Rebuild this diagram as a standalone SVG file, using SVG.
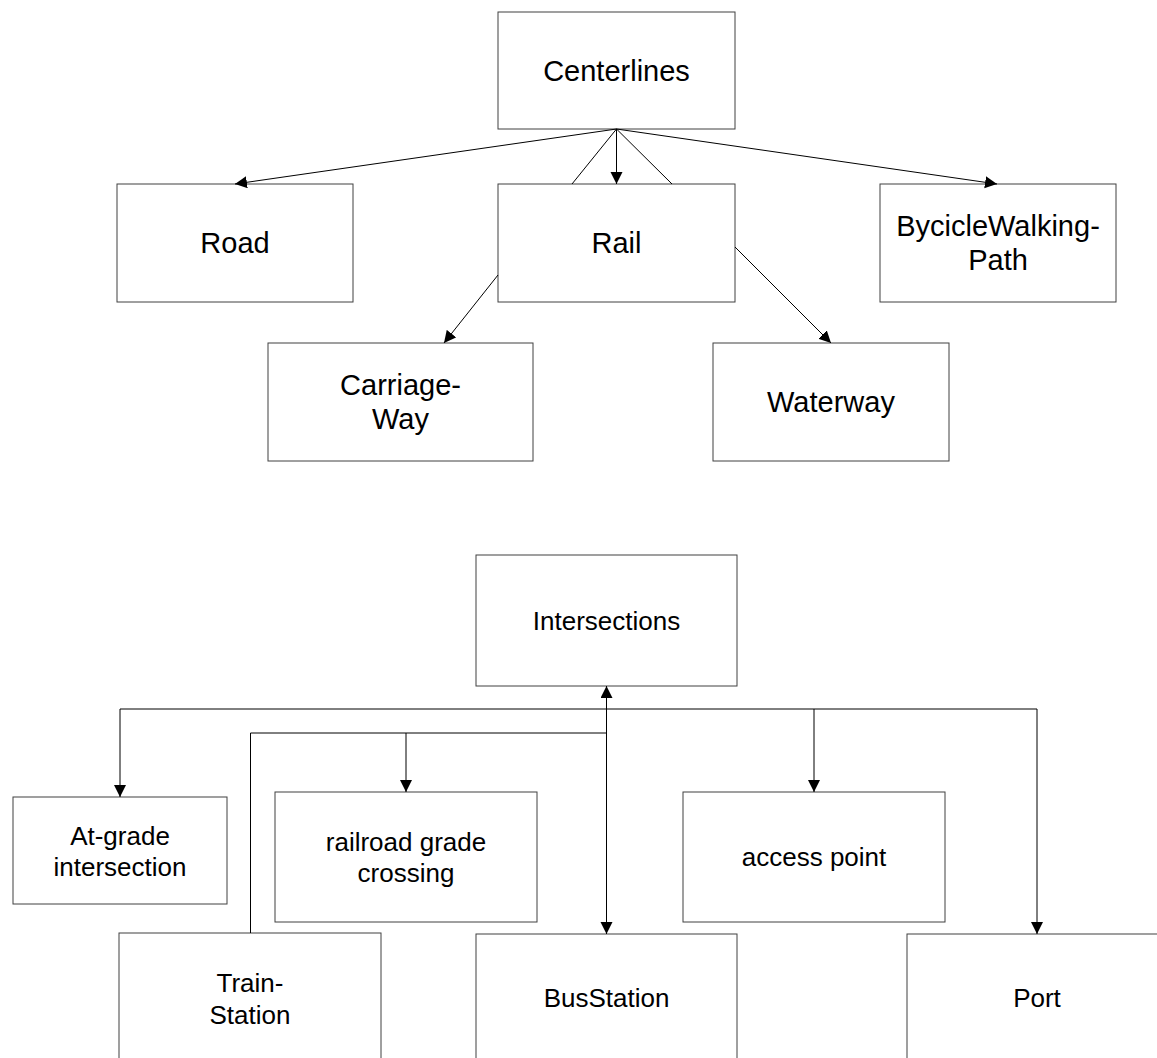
<svg xmlns="http://www.w3.org/2000/svg" width="1157" height="1058" viewBox="0 0 1157 1058">
<style>
.box{fill:#fff;stroke:#404040;stroke-width:1}
.t1{font-family:"Liberation Sans",Arial,sans-serif;font-size:29px;fill:#000;text-anchor:middle}
.t2{font-family:"Liberation Sans",Arial,sans-serif;font-size:26px;fill:#000;text-anchor:middle}
.c{fill:none;stroke:#000;stroke-width:1}
</style>
<defs>
<marker id="arr" markerUnits="userSpaceOnUse" markerWidth="13" markerHeight="13" refX="12" refY="6" orient="auto">
<path d="M0,0 L12,6 L0,12 Z" fill="#000"/>
</marker>
<marker id="arrs" markerUnits="userSpaceOnUse" markerWidth="13" markerHeight="13" refX="12" refY="6" orient="auto-start-reverse">
<path d="M0,0 L12,6 L0,12 Z" fill="#000"/>
</marker>
</defs>
<rect width="1157" height="1058" fill="#fff"/>
<g id="centerlines"><rect class="box" x="498" y="12" width="237" height="117"/><text class="t1" x="616.5" y="81">Centerlines</text></g>
<g id="road"><rect class="box" x="117" y="184" width="236" height="118"/><text class="t1" x="235" y="253">Road</text></g>
<g id="rail"><rect class="box" x="498" y="184" width="237" height="118"/><text class="t1" x="616.5" y="253">Rail</text></g>
<g id="bycicle"><rect class="box" x="880" y="184" width="236" height="118"/><text class="t1" x="998" y="236">BycicleWalking-</text><text class="t1" x="998" y="270">Path</text></g>
<g id="carriageway"><rect class="box" x="268" y="343" width="265" height="118"/><text class="t1" x="400.5" y="395">Carriage-</text><text class="t1" x="400.5" y="429">Way</text></g>
<g id="waterway"><rect class="box" x="713" y="343" width="236" height="118"/><text class="t1" x="831" y="412">Waterway</text></g>
<g id="intersections"><rect class="box" x="476" y="555" width="261" height="131"/><text class="t2" x="606.5" y="630">Intersections</text></g>
<g id="atgrade"><rect class="box" x="13" y="797" width="214" height="107"/><text class="t2" x="120" y="845">At-grade</text><text class="t2" x="120" y="876">intersection</text></g>
<g id="railroad"><rect class="box" x="275" y="792" width="262" height="130"/><text class="t2" x="406" y="851">railroad grade</text><text class="t2" x="406" y="882">crossing</text></g>
<g id="accesspoint"><rect class="box" x="683" y="792" width="262" height="130"/><text class="t2" x="814" y="866">access point</text></g>
<g id="trainstation"><rect class="box" x="119" y="933" width="262" height="131"/><text class="t2" x="250" y="992">Train-</text><text class="t2" x="250" y="1024">Station</text></g>
<g id="busstation"><rect class="box" x="476" y="934" width="261" height="131"/><text class="t2" x="606.5" y="1007">BusStation</text></g>
<g id="port"><rect class="box" x="907" y="934" width="260" height="131"/><text class="t2" x="1037" y="1007">Port</text></g>
<g id="connectors">
<line class="c" x1="616.5" y1="129" x2="235" y2="184" marker-end="url(#arr)"/>
<line class="c" x1="616.5" y1="129" x2="616.5" y2="184" marker-end="url(#arr)"/>
<line class="c" x1="616.5" y1="129" x2="997" y2="184" marker-end="url(#arr)"/>
<line class="c" x1="616.5" y1="129" x2="572" y2="184"/>
<line class="c" x1="616.5" y1="129" x2="672" y2="184"/>
<line class="c" x1="498" y1="275" x2="444" y2="343" marker-end="url(#arr)"/>
<line class="c" x1="735" y1="247" x2="831" y2="343" marker-end="url(#arr)"/>
<line class="c" x1="606.5" y1="934" x2="606.5" y2="686" marker-start="url(#arrs)" marker-end="url(#arr)"/>
<polyline class="c" points="120,797 120,709 1037,709 1037,934" marker-start="url(#arrs)" marker-end="url(#arr)"/>
<line class="c" x1="814" y1="709" x2="814" y2="792" marker-end="url(#arr)"/>
<polyline class="c" points="250.5,933 250.5,733 606.5,733"/>
<line class="c" x1="406" y1="733" x2="406" y2="792" marker-end="url(#arr)"/>
</g>
</svg>
